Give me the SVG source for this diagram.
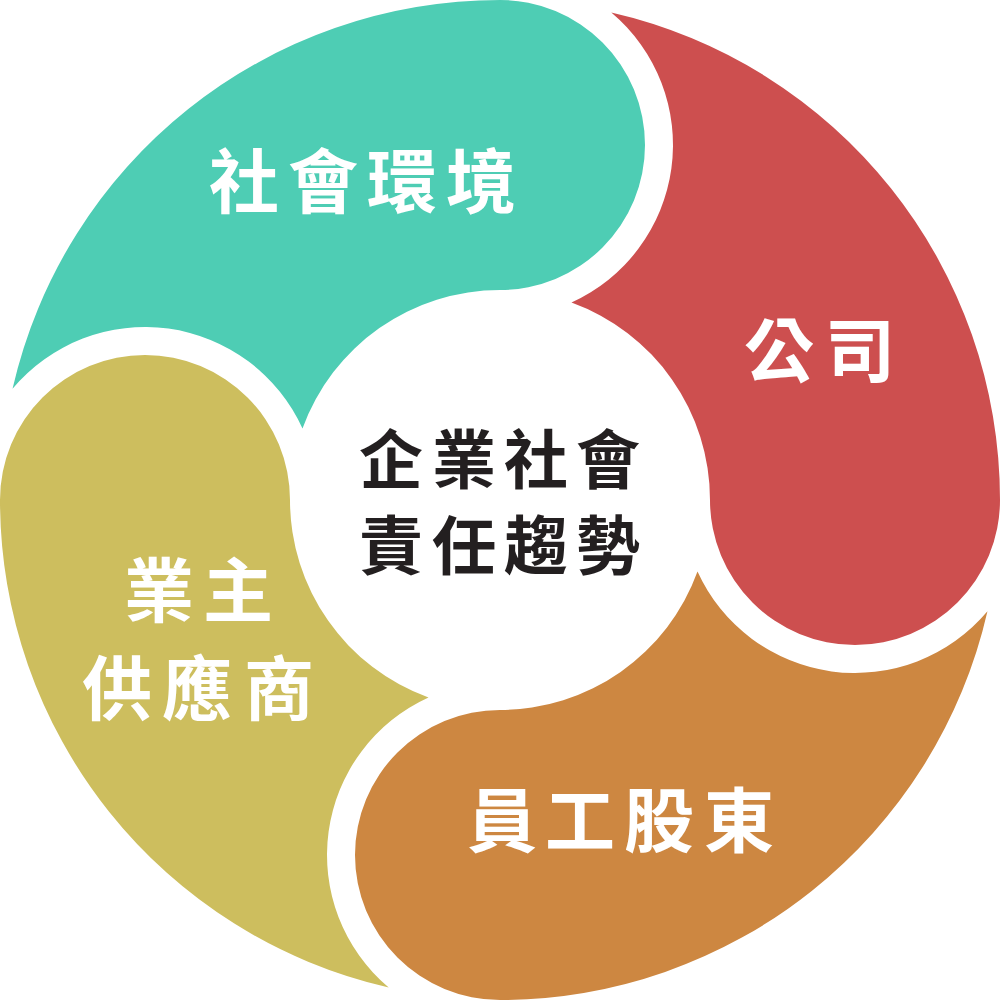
<svg xmlns="http://www.w3.org/2000/svg" width="1000" height="1000" viewBox="0 0 1000 1000">
<style>
.lbl{font-family:"Noto Sans CJK TC","Noto Sans CJK SC",sans-serif;font-weight:bold;fill:#ffffff;font-size:70px}
.ctr{font-family:"Noto Sans CJK TC","Noto Sans CJK SC",sans-serif;font-weight:bold;fill:#231f20;font-size:64px}
</style>
<rect width="1000" height="1000" fill="#ffffff"/>
<g id="teal">
<path d="M500,0 A145,145 0 0 1 500,290 A210,210 0 0 0 302.5,428.5 A173,173 0 0 0 12.54,388.7 A500,500 0 0 1 500,0 Z" fill="#4ecdb4"/>
<text class="lbl" x="209 288 367 446" y="208">社會環境</text>
</g>
<g id="red">
<path d="M1000,500 A145,145 0 0 1 710,500 A210,210 0 0 0 571.5,302.5 A173,173 0 0 0 611.3,12.54 A500,500 0 0 1 1000,500 Z" fill="#cd4f4f"/>
<text class="lbl" x="744 825" y="377">公司</text>
</g>
<g id="orange">
<path d="M500,1000 A145,145 0 0 1 500,710 A210,210 0 0 0 697.5,571.5 A173,173 0 0 0 987.46,611.3 A500,500 0 0 1 500,1000 Z" fill="#cd8741"/>
<text class="lbl" x="467 545 624 704" y="847">員工股東</text>
</g>
<g id="yellow">
<path d="M0,500 A145,145 0 0 1 290,500 A210,210 0 0 0 428.5,697.5 A173,173 0 0 0 388.7,987.46 A500,500 0 0 1 0,500 Z" fill="#cdbe5e"/>
<text class="lbl" x="124 203" y="617">業主</text>
<text class="lbl" x="82 162 244" y="715">供應商</text>
</g>
<g id="center">
<text class="ctr" x="359 432 504 576" y="483">企業社會</text>
<text class="ctr" x="359 432 504 576" y="569">責任趨勢</text>
</g>
<g id="connectors"></g>
</svg>
